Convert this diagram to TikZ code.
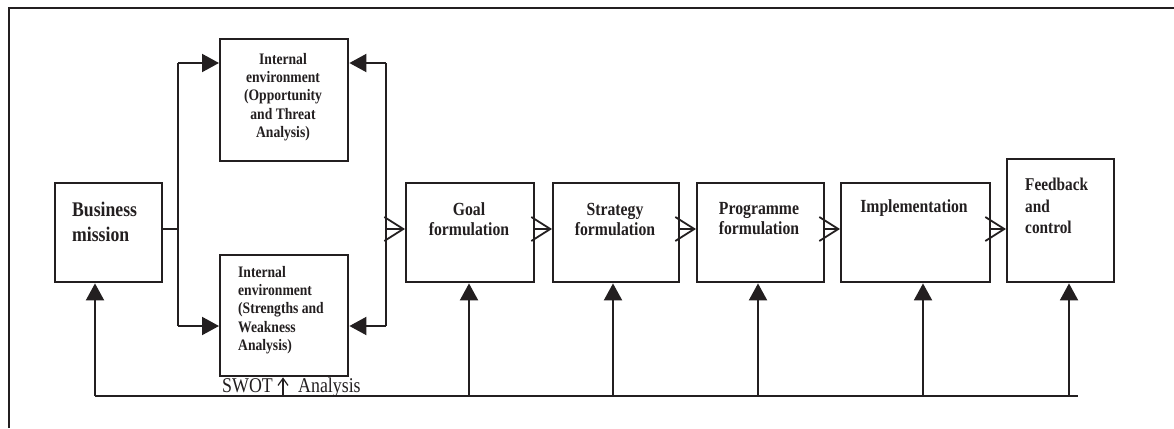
\documentclass[tikz,border=0pt]{standalone}
\usepackage{fontspec}
\setmainfont{Liberation Serif}[FakeStretch=0.85]
\usetikzlibrary{arrows.meta}
\definecolor{ink}{HTML}{231F20}
\begin{document}
\begin{tikzpicture}[x=1pt,y=-1pt,
  box/.style={draw=ink, line width=2.4pt, inner sep=0pt, anchor=north west},
  lbl/.style={inner sep=0pt, text=ink, font=\bfseries\fontsize{18.5pt}{20pt}\selectfont},
  small/.style={inner sep=0pt, text=ink, font=\bfseries\fontsize{16pt}{18.3pt}\selectfont},
  plain/.style={inner sep=0pt, text=ink, font=\fontsize{21pt}{22pt}\selectfont},
  flow/.style={draw=ink, line width=2pt},
  solid tip/.style={-{Triangle[length=17pt,width=18pt]}},
  open tip/.style={-{Straight Barb[length=19pt,width=24pt,line width=1.8pt]}},
  thin tip/.style={-{Straight Barb[length=7pt,width=10pt,line width=1.2pt]}},
]
\useasboundingbox (0,0) rectangle (1174,428);
\fill[white] (0,0) rectangle (1174,428);

% frame
\draw[ink, line width=2.8pt] (9,428) -- (9,8) -- (1174,8);

% boxes
\node[box, minimum width=107pt, minimum height=99pt]  (bm)     at (54,182)  {};
\node[box, minimum width=128pt, minimum height=122pt] (top)    at (219,38)  {};
\node[box, minimum width=128pt, minimum height=121pt] (bot)    at (219,254) {};
\node[box, minimum width=128pt, minimum height=99pt]  (goal)   at (405,182) {};
\node[box, minimum width=126pt, minimum height=99pt]  (strat)  at (552,182) {};
\node[box, minimum width=127pt, minimum height=99pt]  (prog)   at (696,182) {};
\node[box, minimum width=149pt, minimum height=99pt]  (impl)   at (840,182) {};
\node[box, minimum width=107pt, minimum height=123pt] (fb)     at (1006,158) {};

% box texts
\node[lbl, anchor=west, align=left, font=\bfseries\fontsize{20.8pt}{24.5pt}\selectfont] (bmtxt) at (72,222) {Business\\mission};
\node[small, align=center] (toptxt) at (283,97) {Internal\\environment\\(Opportunity\\and Threat\\Analysis)};
\node[small, anchor=west, align=left] (bottxt) at (238,310) {Internal\\environment\\(Strengths and\\Weakness\\Analysis)};
\node[lbl, align=center] (goaltxt)  at (469,219) {Goal\\formulation};
\node[lbl, align=center] (strattxt) at (615,219) {Strategy\\formulation};
\node[lbl, align=center] (progtxt)  at (759,219) {Programme\\formulation};
\node[lbl] (impltxt) at (914,208) {Implementation};
\node[lbl, anchor=west, align=left, font=\bfseries\fontsize{18pt}{21.5pt}\selectfont] (fbtxt) at (1025,206) {Feedback\\and\\control};

% SWOT label
\node[plain, anchor=base east] (swot) at (273,392) {SWOT};
\node[plain, anchor=base west] (anal) at (298,392) {Analysis};

% junctions
\coordinate (jm) at (178,229);
\coordinate (jr) at (386,229);
\coordinate (tl) at (178,63);
\coordinate (bl) at (178,326);
\coordinate (tr) at (386,63);
\coordinate (br) at (386,326);

% split from business mission
\draw[flow] (jm -| bm.east) -- (jm);
\draw[flow] (tl) -- (bl);
\draw[flow, solid tip] (tl) -- (top.west |- tl);
\draw[flow, solid tip] (bl) -- (bot.west |- bl);
\draw[flow] (tr) -- (br);
\draw[flow, solid tip] (tr) -- (top.east |- tr);
\draw[flow, solid tip] (br) -- (bot.east |- br);

% main chain
\draw[flow, open tip] (jr) -- (goal.west |- jr);
\draw[flow, open tip] (goal.east |- jr) -- (strat.west |- jr);
\draw[flow, open tip] (strat.east |- jr) -- (prog.west |- jr);
\draw[flow, open tip] (prog.east |- jr) -- (impl.west |- jr);
\draw[flow, open tip] (impl.east |- jr) -- (fb.west |- jr);

% feedback bus
\coordinate (busL) at (95,396);
\coordinate (busR) at (1078,396);
\coordinate (u1) at (469,396);
\coordinate (u2) at (613,396);
\coordinate (u3) at (758,396);
\coordinate (u4) at (923,396);
\coordinate (u5) at (1069,396);
\coordinate (us) at (283,396);
\draw[flow] (busL) -- (busR);
\draw[flow, solid tip] (busL) -- (busL |- bm.south);
\draw[flow, solid tip] (u1) -- (u1 |- goal.south);
\draw[flow, solid tip] (u2) -- (u2 |- strat.south);
\draw[flow, solid tip] (u3) -- (u3 |- prog.south);
\draw[flow, solid tip] (u4) -- (u4 |- impl.south);
\draw[flow, solid tip] (u5) -- (u5 |- fb.south);
\draw[ink, line width=1.2pt, thin tip] (us) -- (us |- bot.south);
\end{tikzpicture}
\end{document}
